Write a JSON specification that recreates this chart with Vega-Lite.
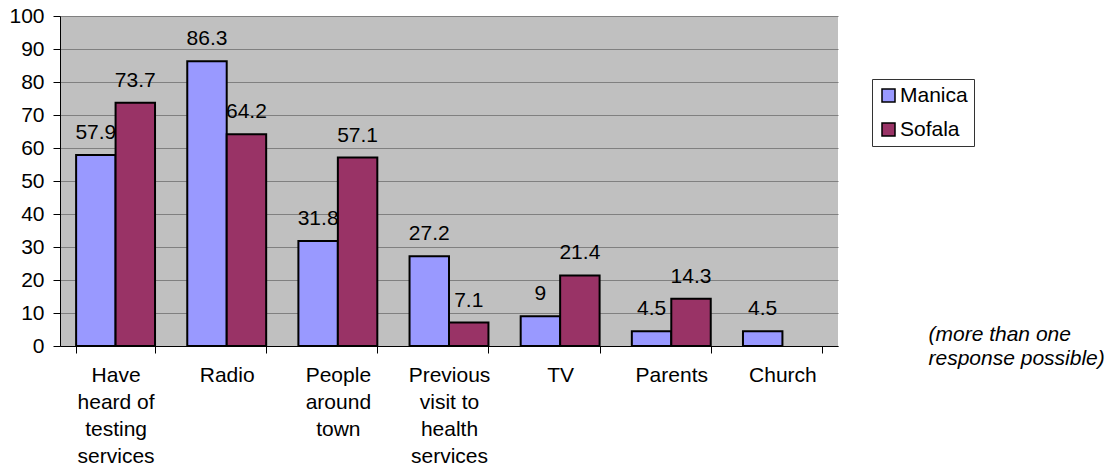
{
  "$schema": "https://vega.github.io/schema/vega-lite/v6.json",
  "width": 778,
  "height": 330,
  "autosize": {"type": "none"},
  "padding": {"left": 60, "top": 16, "right": 273, "bottom": 124},
  "background": "white",
  "config": {
    "font": "Liberation Sans",
    "view": {"fill": "#C0C0C0", "stroke": null},
    "axis": {"labelFont": "Liberation Sans", "labelColor": "black", "labelFontSize": 21, "titleFont": "Liberation Sans"}
  },
  "data": {
    "values": [
      {"source": "Have heard of testing services", "region": "Manica", "pct": 57.9},
      {"source": "Have heard of testing services", "region": "Sofala", "pct": 73.7},
      {"source": "Radio", "region": "Manica", "pct": 86.3},
      {"source": "Radio", "region": "Sofala", "pct": 64.2},
      {"source": "People around town", "region": "Manica", "pct": 31.8},
      {"source": "People around town", "region": "Sofala", "pct": 57.1},
      {"source": "Previous visit to health services", "region": "Manica", "pct": 27.2},
      {"source": "Previous visit to health services", "region": "Sofala", "pct": 7.1},
      {"source": "TV", "region": "Manica", "pct": 9},
      {"source": "TV", "region": "Sofala", "pct": 21.4},
      {"source": "Parents", "region": "Manica", "pct": 4.5},
      {"source": "Parents", "region": "Sofala", "pct": 14.3},
      {"source": "Church", "region": "Manica", "pct": 4.5}
    ]
  },
  "encoding": {
    "x": {
      "field": "source",
      "type": "nominal",
      "sort": null,
      "scale": {"paddingInner": 0.29, "paddingOuter": 0.145},
      "axis": {
        "labelAngle": 0,
        "labelExpr": "datum.value == 'Have heard of testing services' ? ['Have','heard of','testing','services'] : datum.value == 'People around town' ? ['People','around','town'] : datum.value == 'Previous visit to health services' ? ['Previous','visit to','health','services'] : datum.value",
        "labelLineHeight": 27,
        "labelPadding": 11,
        "labelLimit": 300,
        "tickBand": "extent",
        "tickSize": 7,
        "tickColor": "black",
        "domainColor": "black",
        "grid": false,
        "title": ["(more than one", "response possible)"],
        "titleFontSize": 21,
        "titleFontStyle": "italic",
        "titleFontWeight": "normal",
        "titleColor": "black",
        "titleAlign": "left",
        "titleAnchor": "start",
        "titleBaseline": "alphabetic",
        "titleX": 868,
        "titleY": -6,
        "titleLineHeight": 24,
        "titleAngle": 0
      }
    },
    "xOffset": {"field": "region", "type": "nominal", "scale": {"paddingInner": 0, "paddingOuter": 0}},
    "y": {
      "field": "pct",
      "type": "quantitative",
      "scale": {"domain": [0, 100], "nice": false},
      "axis": {
        "values": [0, 10, 20, 30, 40, 50, 60, 70, 80, 90, 100],
        "title": null,
        "grid": true,
        "gridColor": "#808080",
        "gridWidth": 1,
        "tickSize": 7,
        "tickColor": "black",
        "domainColor": "black",
        "labelPadding": 9
      }
    }
  },
  "layer": [
    {
      "mark": {"type": "bar", "stroke": "black", "strokeWidth": 2},
      "encoding": {
        "color": {
          "field": "region",
          "type": "nominal",
          "scale": {"domain": ["Manica", "Sofala"], "range": ["#9999FF", "#993366"]},
          "legend": {
            "title": null,
            "orient": "none",
            "legendX": 812,
            "legendY": 63,
            "direction": "vertical",
            "symbolType": "square",
            "symbolSize": 169,
            "symbolStrokeColor": "black",
            "symbolStrokeWidth": 1.5,
            "symbolOpacity": 1,
            "labelFontSize": 21,
            "labelFont": "Liberation Sans",
            "labelColor": "black",
            "labelOffset": 1,
            "rowPadding": 12,
            "padding": 6,
            "strokeColor": "#333333",
            "fillColor": "white"
          }
        }
      }
    },
    {
      "mark": {"type": "text", "baseline": "alphabetic", "align": "center", "dy": -16, "fontSize": 21, "color": "black", "font": "Liberation Sans"},
      "encoding": {"text": {"field": "pct", "type": "quantitative"}}
    }
  ]
}
